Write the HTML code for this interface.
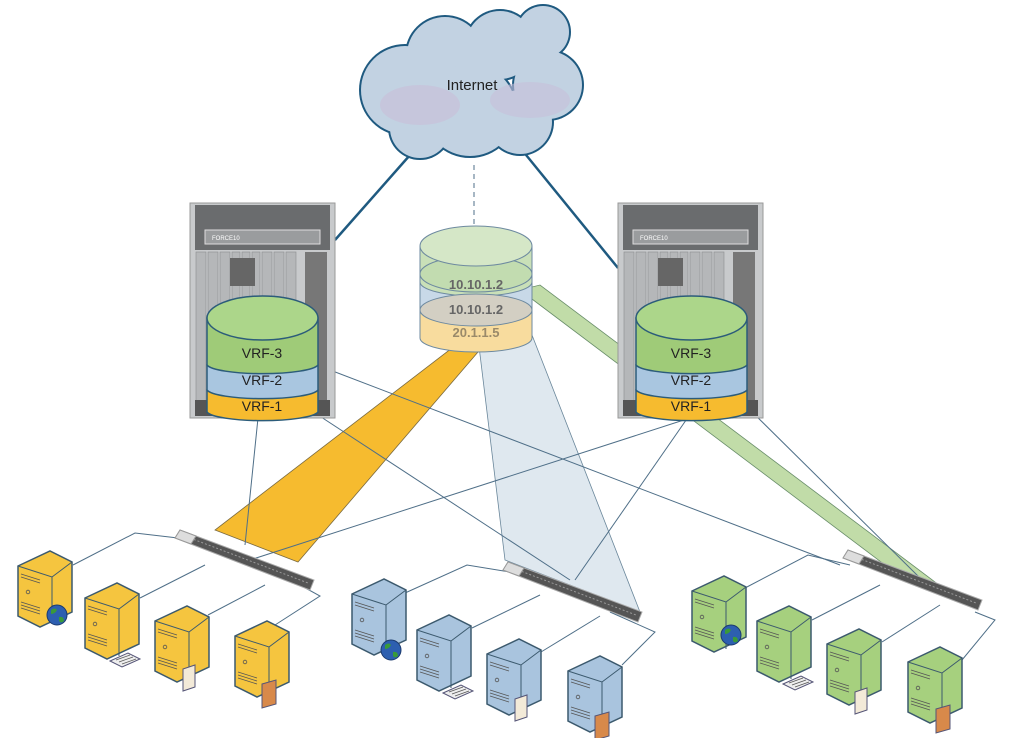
<!DOCTYPE html>
<html><head><meta charset="utf-8"><style>
html,body{margin:0;padding:0;background:#fff;}
svg{display:block;font-family:"Liberation Sans",sans-serif;}
</style></head><body>
<svg width="1009" height="738" viewBox="0 0 1009 738" xmlns="http://www.w3.org/2000/svg">
<defs>
<g id="srvshape">
  <polygon points="0,16 32,1 54,12 54,62 22,77 0,66" stroke="#3c5a6e" stroke-width="1.5"/>
  <polyline points="0,16 34,27 54,12" fill="none" stroke="#3c5a6e" stroke-width="1"/>
  <line x1="34" y1="27" x2="34" y2="74" stroke="#3c5a6e" stroke-width="1"/>
  <g stroke="#555" stroke-width="0.8" fill="none">
    <line x1="3" y1="24" x2="22" y2="30"/><line x1="3" y1="27" x2="22" y2="33"/>
    <circle cx="10" cy="42" r="1.8"/>
    <line x1="3" y1="52" x2="22" y2="58"/><line x1="3" y1="55" x2="22" y2="61"/><line x1="3" y1="58" x2="22" y2="64"/>
  </g>
</g>
<g id="globe"><circle r="10" fill="#2d5fb0" stroke="#1b3a6e"/><path d="M-6,-5 q4,-3 6,0 q-2,4 -6,4z M2,2 q5,-1 5,4 q-3,3 -5,0z" fill="#3a9a3a"/></g>
<g id="tray"><polygon points="0,8 18,0 30,6 12,14" fill="#eee" stroke="#557"/><g stroke="#555" stroke-width="0.7"><line x1="6" y1="7" x2="20" y2="2"/><line x1="9" y1="9" x2="23" y2="4"/><line x1="12" y1="11" x2="26" y2="6"/></g></g>
<g id="doc"><polygon points="0,4 12,0 12,22 0,26" fill="#f3ead8" stroke="#557"/></g>
<g id="disk"><polygon points="0,4 14,0 14,24 0,28" fill="#d8894a" stroke="#557"/></g>
</defs>

<!-- beams -->
<polygon points="215,530 298,562 490,338 465,338" fill="#f6bb2f" stroke="#7a6a40" stroke-width="0.8"/>
<polygon points="478,338 532,335 640,612 505,560" fill="#dce6ee" stroke="#5a7a90" stroke-width="0.8" opacity="0.9"/>
<polygon points="520,290 540,285 935,582 905,580" fill="#b7d79a" stroke="#4f7a50" stroke-width="0.8" opacity="0.85"/>

<!-- thin lines -->
<g stroke="#4f6f88" stroke-width="1" fill="none">
<line x1="258" y1="418" x2="245" y2="545"/>
<line x1="318" y1="415" x2="570" y2="580"/>
<line x1="330" y1="370" x2="840" y2="565"/>
<line x1="690" y1="418" x2="250" y2="560"/>
<line x1="700" y1="400" x2="575" y2="580"/>
<line x1="740" y1="400" x2="920" y2="578"/>
<polyline points="73,565 135,533 178,538"/>
<polyline points="140,598 205,565"/>
<polyline points="208,615 265,585"/>
<polyline points="275,625 320,596 300,585"/>
<polyline points="405,593 467,565 510,572"/>
<polyline points="472,628 540,595"/>
<polyline points="541,652 600,616"/>
<polyline points="622,665 655,632 610,612"/>
<polyline points="745,588 808,555 850,565"/>
<polyline points="812,620 880,585"/>
<polyline points="882,642 940,605"/>
<polyline points="962,660 995,620 975,612"/>
</g>

<!-- cloud links -->
<line x1="410" y1="155" x2="335" y2="240" stroke="#1f5a80" stroke-width="2.5"/>
<line x1="522" y1="150" x2="618" y2="268" stroke="#1f5a80" stroke-width="2.5"/>
<line x1="474" y1="165" x2="474" y2="228" stroke="#4f6f88" stroke-width="1" stroke-dasharray="5,4"/>

<!-- cloud -->
<g>
 <g fill="#1f5a80">
  <circle cx="405" cy="90" r="46"/><circle cx="445" cy="55" r="40"/><circle cx="500" cy="45" r="36"/>
  <circle cx="543" cy="32" r="28"/><circle cx="548" cy="85" r="36"/><circle cx="470" cy="110" r="48"/>
  <circle cx="420" cy="128" r="32"/><circle cx="520" cy="122" r="34"/>
 </g>
 <g fill="#c2d2e2">
  <circle cx="405" cy="90" r="44"/><circle cx="445" cy="55" r="38"/><circle cx="500" cy="45" r="34"/>
  <circle cx="543" cy="32" r="26"/><circle cx="548" cy="85" r="34"/><circle cx="470" cy="110" r="46"/>
  <circle cx="420" cy="128" r="30"/><circle cx="520" cy="122" r="32"/>
 </g>
 <ellipse cx="420" cy="105" rx="40" ry="20" fill="#c7c0da" opacity="0.7"/>
 <ellipse cx="530" cy="100" rx="40" ry="18" fill="#c7c0da" opacity="0.6"/>
 <text x="472" y="90" font-size="15" text-anchor="middle" fill="#222">Internet</text>
</g>

<!-- racks -->
<g id="rackL">
 <rect x="190" y="203" width="145" height="215" fill="#c8cacc" stroke="#999"/>
 <rect x="195" y="205" width="135" height="45" fill="#6a6c6e"/>
 <rect x="205" y="230" width="115" height="14" fill="#9a9c9e" stroke="#ddd"/>
 <text x="212" y="240" font-size="6" fill="#fff">FORCE10</text>
 <g fill="#b5b7b9" stroke="#8a8c8e" stroke-width="0.6">
  <rect x="196" y="252" width="10" height="150"/><rect x="208" y="252" width="10" height="150"/><rect x="220" y="252" width="10" height="150"/>
  <rect x="232" y="252" width="8" height="150"/><rect x="242" y="252" width="8" height="150"/><rect x="252" y="252" width="8" height="150"/>
  <rect x="262" y="252" width="10" height="150"/><rect x="274" y="252" width="10" height="150"/><rect x="286" y="252" width="10" height="150"/>
 </g>
 <rect x="230" y="258" width="25" height="28" fill="#666"/>
 <rect x="305" y="252" width="22" height="150" fill="#777"/>
 <rect x="195" y="400" width="135" height="16" fill="#555"/>
</g>
<use href="#rackL" x="428"/>

<!-- VRF cylinders -->
<g id="vrf">
 <path d="M207,390 v22 a56,10 0 0 0 111,0 v-22z" fill="#f6bb2f" stroke="#2c5c7a" stroke-width="1.5"/>
 <path d="M207,365 v25 a56,10 0 0 0 111,0 v-25z" fill="#a9c6e0" stroke="#2c5c7a" stroke-width="1.5"/>
 <path d="M207,318 v47 a56,10 0 0 0 111,0 v-47z" fill="#9fcb78" stroke="#2c5c7a" stroke-width="1.5"/>
 <ellipse cx="262.5" cy="318" rx="55.5" ry="22" fill="#acd68a" stroke="#2c5c7a" stroke-width="1.5"/>
 <text x="262" y="358" font-size="14" text-anchor="middle" fill="#222">VRF-3</text>
 <text x="262" y="385" font-size="14" text-anchor="middle" fill="#222">VRF-2</text>
 <text x="262" y="411" font-size="14" text-anchor="middle" fill="#222">VRF-1</text>
</g>
<use href="#vrf" x="429"/>

<!-- center cylinder -->
<g>
 <path d="M420,310 v28 a56,14 0 0 0 112,0 v-28z" fill="#f8dc9e" stroke="#6e8aa0"/>
 <path d="M420,282 v28 a56,14 0 0 0 112,0 v-28z" fill="#c8d9e8" stroke="#6e8aa0"/>
 <path d="M420,246 v36 a56,14 0 0 0 112,0 v-36z" fill="#c9e0b8" stroke="#6e8aa0"/>
 <ellipse cx="476" cy="310" rx="56" ry="16" fill="#d3cfc3" stroke="#6e8aa0"/>
 <ellipse cx="476" cy="274" rx="56" ry="18" fill="#c2dcb0" stroke="#6e8aa0"/>
 <ellipse cx="476" cy="246" rx="56" ry="20" fill="#d5e7c7" stroke="#6e8aa0"/>
 <text x="476" y="289" font-size="13" font-weight="bold" text-anchor="middle" fill="#666">10.10.1.2</text>
 <text x="476" y="314" font-size="13" font-weight="bold" text-anchor="middle" fill="#666">10.10.1.2</text>
 <text x="476" y="337" font-size="13" font-weight="bold" text-anchor="middle" fill="#9a8a6a">20.1.1.5</text>
</g>

<!-- switches -->
<g id="sw">
 <polygon points="175,538 180,530 314,580 310,590" fill="#555" stroke="#aaa"/>
 <line x1="190" y1="538" x2="308" y2="583" stroke="#999" stroke-width="1" stroke-dasharray="2,2"/>
 <polygon points="175,538 180,530 196,536 191,544" fill="#ddd" stroke="#999"/>
</g>
<use href="#sw" x="328" y="32"/>
<use href="#sw" x="668" y="20"/>

<!-- servers -->
<g fill="#f5c53f"><use href="#srvshape" x="18" y="550"/><use href="#srvshape" x="85" y="582"/><use href="#srvshape" x="155" y="605"/><use href="#srvshape" x="235" y="620"/></g>
<g fill="#a9c4de"><use href="#srvshape" x="352" y="578"/><use href="#srvshape" x="417" y="614"/><use href="#srvshape" x="487" y="638"/><use href="#srvshape" x="568" y="655"/></g>
<g fill="#a6d07e"><use href="#srvshape" x="692" y="575"/><use href="#srvshape" x="757" y="605"/><use href="#srvshape" x="827" y="628"/><use href="#srvshape" x="908" y="646"/></g>

<use href="#globe" x="57" y="615"/><use href="#globe" x="391" y="650"/><use href="#globe" x="731" y="635"/>
<use href="#tray" x="110" y="653"/><use href="#tray" x="443" y="685"/><use href="#tray" x="783" y="676"/>
<use href="#doc" x="183" y="665"/><use href="#doc" x="515" y="695"/><use href="#doc" x="855" y="688"/>
<use href="#disk" x="262" y="680"/><use href="#disk" x="595" y="712"/><use href="#disk" x="936" y="705"/>
</svg>
</body></html>
